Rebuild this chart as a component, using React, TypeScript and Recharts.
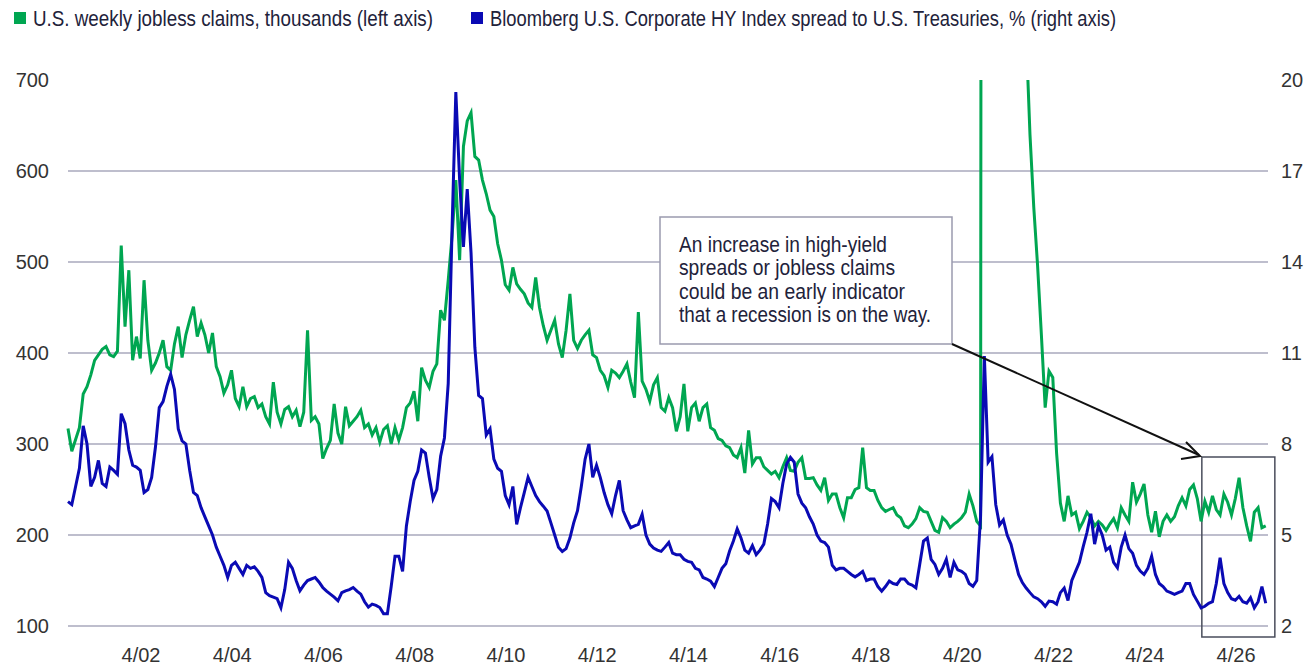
import { LineChart, Line, XAxis, YAxis, CartesianGrid, ReferenceArea } from "recharts"

// monthly observations, first one at 2000.65 (decimal year)
const START = 2000.65

const claims = [
  317, 292, 305, 318, 355, 363, 376, 392, 398, 404,
  407, 398, 396, 402, 518, 429, 491, 392, 418, 394,
  480, 414, 381, 389, 400, 414, 385, 381, 410, 429,
  395, 420, 436, 451, 418, 433, 420, 400, 422, 385,
  374, 356, 365, 381, 350, 341, 363, 341, 350, 352,
  340, 344, 330, 322, 368, 335, 322, 338, 341, 330,
  337, 319, 335, 425, 326, 330, 322, 284, 295, 304,
  344, 312, 300, 341, 320, 325, 330, 337, 318, 322,
  310, 318, 302, 316, 320, 300, 318, 304, 318, 340,
  345, 358, 325, 384, 370, 362, 380, 388, 447, 436,
  480, 528, 590, 502, 627, 655, 664, 616, 612, 590,
  575, 557, 550, 520, 502, 475, 469, 494, 476, 470,
  465, 455, 450, 483, 450, 430, 414, 425, 436, 410,
  395, 425, 465, 414, 405, 414, 420, 425, 398, 395,
  381, 375, 362, 381, 378, 373, 380, 388, 368, 351,
  445, 369, 360, 347, 365, 373, 340, 336, 351, 340,
  314, 330, 366, 314, 340, 345, 325, 340, 344, 318,
  315, 306, 304, 298, 296, 288, 285, 296, 268, 315,
  278, 285, 285, 275, 271, 267, 270, 263, 275, 285,
  271, 270, 280, 285, 262, 262, 263, 255, 249, 263,
  238, 245, 245, 230, 219, 241, 241, 250, 252, 296,
  252, 249, 249, 238, 230, 226, 228, 230, 222, 219,
  210, 208, 212, 218, 230, 226, 225, 215, 205, 203,
  219, 215, 208, 212, 215, 219, 225, 245, 232, 215,
  210, 5200, 3000, 2000, 1500, 1300, 1200, 1000, 900, 880,
  850, 800, 750, 640, 560, 496, 420, 340, 380, 373,
  290, 235, 215, 243, 222, 225, 207, 215, 225, 219,
  210, 215, 211, 205, 212, 218, 208, 230, 222, 215,
  258, 236, 245, 256, 222, 203, 226, 198, 215, 222,
  215, 220, 232, 241, 232, 250, 255, 240, 215, 237,
  225, 243, 228, 222, 245, 236, 222, 240, 263, 230,
  210, 193, 225, 230, 208, 210,
]

const spread = [
  6.1, 6.0, 6.6, 7.2, 8.6, 8.0, 6.6, 6.9, 7.46, 6.7,
  6.6, 7.24, 7.13, 7.0, 9.0, 8.67, 7.8, 7.3, 7.24, 7.13,
  6.4, 6.5, 6.9, 7.9, 9.2, 9.4, 9.9, 10.3, 9.8, 8.5,
  8.1, 8.0, 7.13, 6.4, 6.3, 5.9, 5.6, 5.3, 5.0, 4.6,
  4.3, 4.0, 3.6, 4.0, 4.1, 3.9, 3.7, 4.0, 3.9, 3.95,
  3.8, 3.6, 3.1, 3.0, 2.95, 2.9, 2.6, 3.2, 4.1, 3.9,
  3.5, 3.16, 3.35, 3.5, 3.55, 3.6, 3.45, 3.27, 3.15, 3.05,
  2.95, 2.83, 3.1, 3.16, 3.2, 3.27, 3.15, 3.05, 2.8, 2.62,
  2.72, 2.68, 2.61, 2.4, 2.4, 3.3, 4.3, 4.3, 3.8, 5.3,
  6.1, 6.8, 7.1, 7.8, 7.7, 6.9, 6.2, 6.5, 7.6, 8.2,
  10.0, 15.05, 19.6, 16.7, 14.5, 16.4, 14.3, 11.19, 9.6, 9.5,
  8.3, 8.5, 7.5, 7.2, 7.1, 6.3, 6.0, 6.6, 5.35, 5.9,
  6.4, 6.9, 6.6, 6.3, 6.1, 5.95, 5.79, 5.4, 5.0, 4.6,
  4.46, 4.55, 4.9, 5.4, 5.8, 6.6, 7.5, 8.0, 6.9, 7.3,
  6.89, 6.4, 6.0, 5.7, 6.3, 6.8, 5.8, 5.5, 5.24, 5.3,
  5.35, 5.68, 5.0, 4.7, 4.57, 4.5, 4.46, 4.6, 4.75, 4.4,
  4.35, 4.35, 4.2, 4.13, 4.1, 3.9, 3.85, 3.6, 3.55, 3.48,
  3.3, 3.6, 3.9, 4.05, 4.47, 4.8, 5.2, 4.9, 4.5, 4.4,
  4.65, 4.35, 4.5, 4.7, 5.36, 6.2, 6.1, 5.9, 6.7, 7.34,
  7.56, 7.4, 6.35, 6.05, 5.9, 5.6, 5.36, 5.0, 4.8, 4.75,
  4.6, 4.0, 3.85, 3.9, 3.9, 3.8, 3.7, 3.62, 3.7, 3.8,
  3.5, 3.55, 3.55, 3.3, 3.15, 3.3, 3.48, 3.4, 3.37, 3.55,
  3.55, 3.4, 3.35, 3.26, 4.03, 4.8, 4.9, 4.2, 4.03, 3.7,
  3.9, 4.2, 3.6, 4.1, 3.85, 3.8, 3.7, 3.4, 3.31, 3.5,
  5.6, 10.9, 7.4, 7.58, 6.0, 5.33, 5.5, 5.0, 4.7, 4.2,
  3.7, 3.43, 3.25, 3.1, 2.96, 2.9, 2.8, 2.65, 2.82, 2.8,
  2.72, 3.1, 3.25, 2.84, 3.5, 3.8, 4.1, 4.62, 5.09, 5.7,
  4.7, 5.3, 5.0, 4.5, 4.6, 4.1, 3.92, 4.6, 5.0, 4.55,
  4.4, 4.0, 3.81, 3.7, 3.9, 4.3, 3.7, 3.4, 3.3, 3.15,
  3.1, 3.04, 3.1, 3.15, 3.4, 3.4, 3.04, 2.82, 2.6, 2.65,
  2.75, 2.8, 3.4, 4.25, 3.4, 3.1, 2.9, 2.85, 2.98, 2.8,
  2.75, 2.93, 2.6, 2.8, 3.3, 2.75,
]

const xTicks = [2002.25, 2004.25, 2006.25, 2008.25, 2010.25, 2012.25, 2014.25, 2016.25, 2018.25, 2020.25, 2022.25, 2024.25, 2026.25]
const leftTicks = [100, 200, 300, 400, 500, 600, 700]
const rightTicks = [2, 5, 8, 11, 14, 17, 20]
const gridValues = [100, 200, 300, 400, 500, 600]

const legendItems = [
  { label: "U.S. weekly jobless claims, thousands (left axis)", color: "#00a651", width: 400 },
  { label: "Bloomberg U.S. Corporate HY Index spread to U.S. Treasuries, % (right axis)", color: "#0a0ab4", width: 626 },
]

const noteLines = [
  { text: "An increase in high-yield", width: 208 },
  { text: "spreads or jobless claims", width: 216 },
  { text: "could be an early indicator", width: 226 },
  { text: "that a recession is on the way.", width: 252 },
]

const GREEN = "#00a651"
const BLUE = "#0a0ab4"
const sans = "'Liberation Sans', Arial, sans-serif"
const tickStyle = { fontFamily: sans, fontSize: 20, fill: "#333" }

const data = claims.map((c, i) => ({ t: START + i / 12, claims: c, spread: spread[i] }))

export default function App() {
  return (
    <div style={{ position: "absolute", left: 0, top: 0, width: 1309, height: 669, background: "#fff" }}>
      <LineChart width={1309} height={669} data={data} margin={{ top: 80, right: 0, bottom: 0, left: 8 }}>
        <CartesianGrid vertical={false} horizontalValues={gridValues} yAxisId="left" stroke="#a9a9bd" strokeWidth={1.5} />
        <XAxis
          dataKey="t"
          type="number"
          domain={[2000.65, 2026.95]}
          ticks={xTicks}
          tickFormatter={(v: number) => "4/" + String(Math.floor(v) % 100).padStart(2, "0")}
          axisLine={false}
          tickLine={false}
          tickSize={0}
          tickMargin={22}
          height={43}
          tick={tickStyle}
        />
        <YAxis
          yAxisId="left"
          domain={[100, 700]}
          ticks={leftTicks}
          allowDataOverflow
          axisLine={false}
          tickLine={false}
          tickSize={0}
          tickMargin={19}
          width={60}
          tick={tickStyle}
        />
        <YAxis
          yAxisId="right"
          orientation="right"
          domain={[2, 20]}
          ticks={rightTicks}
          allowDataOverflow
          axisLine={false}
          tickLine={false}
          tickSize={0}
          tickMargin={13}
          width={41}
          tick={tickStyle}
        />
        <Line yAxisId="left" type="linear" dataKey="claims" stroke={GREEN} strokeWidth={3} dot={false} isAnimationActive={false} />
        <Line yAxisId="right" type="linear" dataKey="spread" stroke={BLUE} strokeWidth={3} dot={false} isAnimationActive={false} />
        <ReferenceArea
          yAxisId="right"
          x1={2025.5}
          x2={2027.1}
          y1={1.64}
          y2={7.57}
          ifOverflow="visible"
          fill="none"
          stroke="#4a4e5c"
          strokeWidth={1.5}
        />
      </LineChart>
      <svg width={1309} height={669} style={{ position: "absolute", left: 0, top: 0, pointerEvents: "none" }}>
        {legendItems.map((item, i) => {
          const x0 = i === 0 ? 14 : 471
          return (
            <g key={item.label}>
              <rect x={x0} y={12} width={12} height={12} fill={item.color} />
              <text x={x0 + 19} y={26} fontFamily={sans} fontSize={22} fill="#22223a" textLength={item.width} lengthAdjust="spacingAndGlyphs">
                {item.label}
              </text>
            </g>
          )
        })}
        <rect x={660} y={217} width={292} height={127} fill="#fff" stroke="#9a9aae" strokeWidth={1.5} />
        <line x1={952} y1={344} x2={1199} y2={455} stroke="#111" strokeWidth={2} />
        <polyline points="1186,442 1200,456 1181,459" fill="none" stroke="#111" strokeWidth={2} />
        {noteLines.map((s, i) => (
          <text key={i} x={679} y={252 + i * 23.3} fontFamily={sans} fontSize={22} fill="#22223a" textLength={s.width} lengthAdjust="spacingAndGlyphs">
            {s.text}
          </text>
        ))}
      </svg>
    </div>
  )
}
